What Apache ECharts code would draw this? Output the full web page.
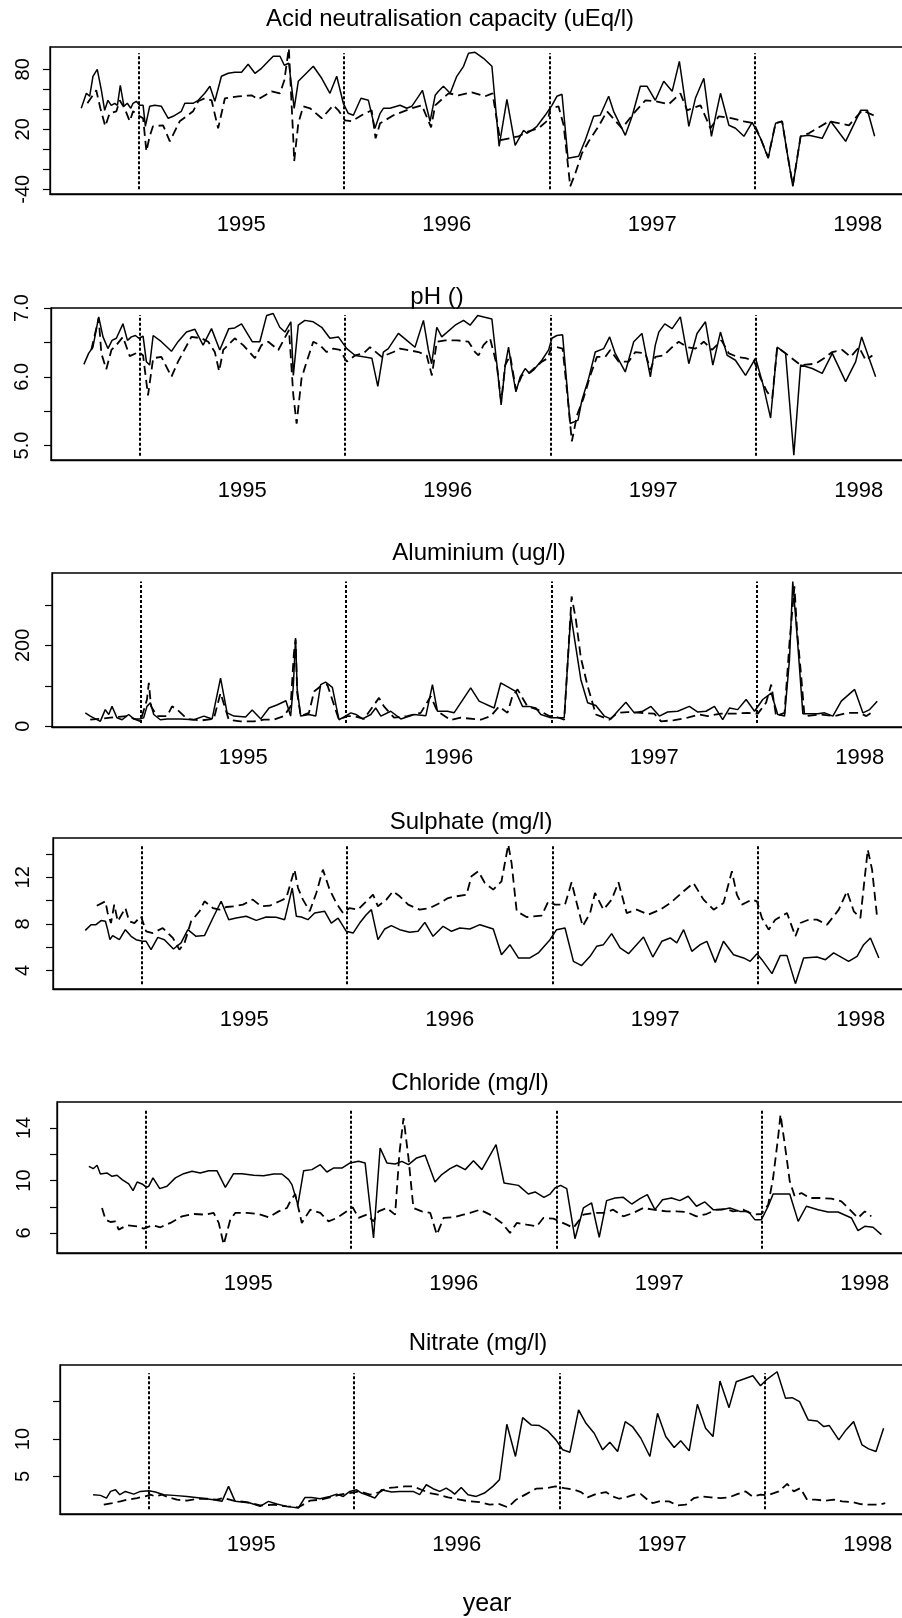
<!DOCTYPE html>
<html><head><meta charset="utf-8">
<script src="https://cdn.jsdelivr.net/npm/echarts@6.0.0/dist/echarts.min.js"></script>
<style>html,body{margin:0;padding:0;background:#fff;}#chart{width:902px;height:1618px;}</style>
</head><body><div id="chart"></div>
<script>
// ---------------- DATA ----------------
const titles = ['Acid neutralisation capacity (uEq/l)', 'pH ()', 'Aluminium (ug/l)', 'Sulphate (mg/l)', 'Chloride (mg/l)', 'Nitrate (mg/l)'];
const xLabel = 'year';
const yearTicks = [1995, 1996, 1997, 1998];
const dividerYears = [1994.5, 1995.5, 1996.5, 1997.5];

const ancTicks = [-40, -20, 0, 20, 40, 60, 80];
const ancLabels = [-40, 20, 80];
const phTicks = [5.0, 5.5, 6.0, 6.5, 7.0];
const phLabels = [5.0, 6.0, 7.0];
const alTicks = [0, 100, 200, 300];
const alLabels = [0, 200];
const so4Ticks = [4, 6, 8, 10, 12, 14];
const so4Labels = [4, 8, 12];
const clTicks = [6, 8, 10, 12, 14];
const clLabels = [6, 10, 14];
const no3Ticks = [5, 10, 15];
const no3Labels = [5, 10];

// value range spanned by the vertical dotted dividers in each panel
const ancSpan = [-40, 96];
const phSpan = [4.85, 6.9];
const alSpan = [8, 358];
const so4Span = [2.8, 14.8];
const clSpan = [4.8, 15.4];
const no3Span = [0.6, 18.8];

const ancSite1 = [[1994.222,41],[1994.247,56],[1994.263,53],[1994.279,73],[1994.300,80],[1994.320,59],[1994.336,39],[1994.352,49],[1994.368,44],[1994.385,46],[1994.398,44],[1994.412,64],[1994.430,43],[1994.446,46],[1994.463,41],[1994.474,46],[1994.490,48],[1994.506,44],[1994.523,44],[1994.534,23],[1994.555,43],[1994.580,44],[1994.612,43],[1994.645,31],[1994.669,33],[1994.709,38],[1994.726,46],[1994.766,46],[1994.791,49],[1994.823,56],[1994.848,63],[1994.872,48],[1994.904,73],[1994.937,76],[1994.969,77],[1995.002,77],[1995.034,85],[1995.067,76],[1995.099,81],[1995.132,88],[1995.156,93],[1995.189,93],[1995.210,84],[1995.232,86],[1995.258,41],[1995.278,68],[1995.351,83],[1995.392,71],[1995.432,56],[1995.465,73],[1995.497,46],[1995.521,36],[1995.546,34],[1995.583,51],[1995.619,49],[1995.651,21],[1995.676,36],[1995.692,41],[1995.724,41],[1995.773,44],[1995.806,41],[1995.830,43],[1995.863,53],[1995.882,59],[1995.919,28],[1995.944,54],[1995.960,58],[1995.984,63],[1996.017,56],[1996.049,73],[1996.082,83],[1996.106,96],[1996.138,97],[1996.179,91],[1996.220,83],[1996.255,3],[1996.293,50],[1996.333,4],[1996.374,19],[1996.390,16],[1996.414,19],[1996.439,23],[1996.479,34],[1996.512,44],[1996.536,53],[1996.561,55],[1996.590,-9],[1996.642,-7],[1996.674,9],[1996.715,33],[1996.747,34],[1996.788,53],[1996.812,38],[1996.869,14],[1996.902,33],[1996.942,63],[1996.975,63],[1997.015,49],[1997.056,68],[1997.097,58],[1997.132,88],[1997.178,23],[1997.210,51],[1997.251,71],[1997.288,13],[1997.311,36],[1997.332,56],[1997.373,24],[1997.405,21],[1997.446,13],[1997.486,27],[1997.527,11],[1997.564,-9],[1997.600,26],[1997.632,28],[1997.657,-4],[1997.684,-37],[1997.722,13],[1997.762,14],[1997.827,11],[1997.868,28],[1997.941,8],[1998.014,39],[1998.047,39],[1998.082,13]];
const ancSite2 = [[1994.252,46],[1994.295,59],[1994.315,41],[1994.339,23],[1994.360,36],[1994.393,38],[1994.409,49],[1994.433,41],[1994.458,28],[1994.474,38],[1994.498,34],[1994.523,31],[1994.539,-2],[1994.555,13],[1994.571,23],[1994.620,24],[1994.653,8],[1994.701,28],[1994.766,38],[1994.791,48],[1994.823,51],[1994.856,49],[1994.888,21],[1994.921,51],[1994.986,53],[1995.051,54],[1995.083,50],[1995.148,58],[1995.189,56],[1995.210,69],[1995.232,101],[1995.254,9],[1995.258,-12],[1995.278,26],[1995.302,43],[1995.335,41],[1995.392,31],[1995.448,44],[1995.473,39],[1995.505,29],[1995.538,28],[1995.586,34],[1995.635,39],[1995.654,11],[1995.676,26],[1995.741,34],[1995.830,41],[1995.879,44],[1995.924,22],[1995.944,44],[1996.009,56],[1996.057,54],[1996.122,57],[1996.187,53],[1996.223,56],[1996.260,9],[1996.350,13],[1996.398,18],[1996.447,21],[1996.492,29],[1996.504,41],[1996.544,43],[1996.569,24],[1996.601,-37],[1996.626,-24],[1996.658,-4],[1996.691,8],[1996.739,23],[1996.780,38],[1996.853,21],[1996.910,36],[1996.967,49],[1997.015,48],[1997.080,45],[1997.137,56],[1997.170,39],[1997.235,44],[1997.283,21],[1997.324,33],[1997.389,31],[1997.446,28],[1997.494,26],[1997.527,11],[1997.564,-8],[1997.600,26],[1997.632,28],[1997.657,-4],[1997.684,-36],[1997.722,13],[1997.762,16],[1997.860,28],[1997.957,24],[1998.022,39],[1998.087,33]];

const phSite1 = [[1994.230,6.18],[1994.253,6.34],[1994.274,6.43],[1994.302,6.87],[1994.323,6.58],[1994.347,6.41],[1994.367,6.53],[1994.388,6.56],[1994.420,6.77],[1994.442,6.53],[1994.461,6.58],[1994.481,6.60],[1994.497,6.56],[1994.518,6.59],[1994.534,6.22],[1994.550,6.17],[1994.567,6.60],[1994.607,6.51],[1994.656,6.37],[1994.688,6.51],[1994.729,6.65],[1994.770,6.69],[1994.810,6.46],[1994.851,6.70],[1994.891,6.39],[1994.935,6.70],[1994.964,6.71],[1994.997,6.77],[1995.021,6.65],[1995.049,6.51],[1995.086,6.51],[1995.119,6.89],[1995.151,6.92],[1995.183,6.72],[1995.208,6.65],[1995.237,6.80],[1995.249,6.02],[1995.273,6.75],[1995.305,6.82],[1995.346,6.80],[1995.387,6.72],[1995.427,6.56],[1995.468,6.58],[1995.509,6.41],[1995.550,6.31],[1995.590,6.29],[1995.631,6.27],[1995.660,5.86],[1995.687,6.36],[1995.711,6.41],[1995.760,6.63],[1995.801,6.53],[1995.841,6.43],[1995.882,6.82],[1995.906,6.39],[1995.922,6.19],[1995.947,6.72],[1995.971,6.58],[1996.036,6.75],[1996.077,6.82],[1996.109,6.75],[1996.146,6.89],[1996.215,6.84],[1996.239,6.19],[1996.260,5.59],[1996.280,6.17],[1996.296,6.43],[1996.312,6.12],[1996.332,5.78],[1996.353,6.00],[1996.377,6.12],[1996.397,6.05],[1996.418,6.10],[1996.458,6.24],[1996.491,6.39],[1996.507,6.56],[1996.531,6.60],[1996.559,6.61],[1996.596,5.32],[1996.634,5.37],[1996.653,5.66],[1996.686,5.98],[1996.718,6.36],[1996.759,6.41],[1996.788,6.58],[1996.815,6.34],[1996.864,6.07],[1996.905,6.51],[1996.945,6.63],[1996.986,6.00],[1997.010,6.46],[1997.027,6.65],[1997.056,6.77],[1997.092,6.70],[1997.132,6.87],[1997.173,6.19],[1997.213,6.63],[1997.254,6.80],[1997.290,6.17],[1997.327,6.65],[1997.360,6.31],[1997.400,6.24],[1997.449,6.02],[1997.498,6.27],[1997.533,5.90],[1997.571,5.40],[1997.603,6.43],[1997.644,6.34],[1997.684,4.86],[1997.717,6.17],[1997.774,6.12],[1997.822,6.05],[1997.871,6.34],[1997.936,5.93],[1997.985,6.22],[1998.014,6.58],[1998.050,6.27],[1998.082,6.00]];
const phSite2 = [[1994.266,6.39],[1994.302,6.85],[1994.315,6.34],[1994.339,6.11],[1994.364,6.39],[1994.388,6.46],[1994.420,6.58],[1994.453,6.30],[1994.497,6.36],[1994.518,6.31],[1994.542,5.73],[1994.567,6.27],[1994.607,6.29],[1994.656,6.00],[1994.688,6.22],[1994.753,6.58],[1994.802,6.56],[1994.835,6.51],[1994.867,6.36],[1994.888,6.08],[1994.908,6.39],[1994.964,6.56],[1995.005,6.46],[1995.062,6.27],[1995.094,6.46],[1995.127,6.51],[1995.176,6.39],[1995.228,6.68],[1995.249,5.73],[1995.265,5.32],[1995.289,5.98],[1995.314,6.22],[1995.346,6.51],[1995.379,6.46],[1995.411,6.36],[1995.444,6.41],[1995.476,6.39],[1995.509,6.22],[1995.549,6.31],[1995.590,6.34],[1995.622,6.43],[1995.679,6.29],[1995.736,6.36],[1995.768,6.41],[1995.858,6.36],[1995.898,6.31],[1995.923,6.02],[1995.947,6.51],[1995.988,6.53],[1996.045,6.53],[1996.101,6.51],[1996.133,6.36],[1996.150,6.31],[1996.174,6.46],[1996.206,6.56],[1996.239,6.17],[1996.260,5.64],[1996.280,6.17],[1996.304,6.31],[1996.332,5.81],[1996.361,6.02],[1996.401,6.07],[1996.458,6.22],[1996.487,6.27],[1996.504,6.43],[1996.531,6.43],[1996.559,6.41],[1996.580,5.81],[1996.604,5.06],[1996.629,5.44],[1996.661,5.69],[1996.694,6.02],[1996.726,6.29],[1996.767,6.29],[1996.791,6.39],[1996.832,6.22],[1996.880,6.22],[1996.913,6.36],[1996.962,6.34],[1996.986,6.10],[1997.010,6.29],[1997.051,6.31],[1997.092,6.43],[1997.124,6.51],[1997.165,6.43],[1997.205,6.41],[1997.246,6.51],[1997.286,6.39],[1997.332,6.53],[1997.368,6.34],[1997.408,6.29],[1997.449,6.27],[1997.489,6.24],[1997.522,5.98],[1997.554,5.78],[1997.579,5.69],[1997.603,6.43],[1997.644,6.34],[1997.717,6.17],[1997.790,6.19],[1997.831,6.27],[1997.871,6.36],[1997.920,6.39],[1997.960,6.29],[1998.001,6.43],[1998.034,6.24],[1998.066,6.31]];

const alSite1 = [[1994.232,33],[1994.256,25],[1994.305,12],[1994.329,41],[1994.346,29],[1994.362,49],[1994.386,21],[1994.411,16],[1994.443,29],[1994.468,18],[1994.500,18],[1994.516,21],[1994.532,49],[1994.549,58],[1994.565,29],[1994.597,16],[1994.630,18],[1994.695,18],[1994.760,16],[1994.809,25],[1994.849,18],[1994.890,119],[1994.922,33],[1994.955,25],[1995.012,23],[1995.044,40],[1995.086,18],[1995.126,45],[1995.167,53],[1995.208,63],[1995.231,25],[1995.244,99],[1995.255,218],[1995.263,91],[1995.280,25],[1995.320,29],[1995.353,25],[1995.377,103],[1995.401,109],[1995.434,96],[1995.466,16],[1995.491,23],[1995.524,33],[1995.549,29],[1995.581,18],[1995.621,29],[1995.645,45],[1995.670,25],[1995.718,37],[1995.767,18],[1995.832,29],[1995.889,26],[1995.921,103],[1995.945,37],[1995.994,37],[1996.026,33],[1996.107,95],[1996.148,62],[1996.221,45],[1996.253,107],[1996.326,86],[1996.359,49],[1996.391,49],[1996.424,45],[1996.448,29],[1996.497,21],[1996.562,21],[1996.594,276],[1996.643,115],[1996.676,58],[1996.716,51],[1996.757,25],[1996.789,18],[1996.822,37],[1996.862,59],[1996.903,33],[1996.944,37],[1996.984,49],[1997.025,25],[1997.065,35],[1997.114,37],[1997.171,49],[1997.212,35],[1997.252,37],[1997.293,49],[1997.333,16],[1997.366,45],[1997.406,41],[1997.447,66],[1997.488,37],[1997.528,66],[1997.569,82],[1997.601,29],[1997.634,25],[1997.658,165],[1997.674,358],[1997.699,198],[1997.723,31],[1997.796,31],[1997.829,33],[1997.869,25],[1997.910,62],[1997.975,91],[1998.015,33],[1998.048,41],[1998.085,62]];
const alSite2 = [[1994.256,16],[1994.354,21],[1994.435,25],[1994.500,12],[1994.532,66],[1994.541,107],[1994.552,49],[1994.581,25],[1994.630,25],[1994.654,49],[1994.679,41],[1994.727,18],[1994.792,14],[1994.857,18],[1994.890,82],[1994.930,16],[1994.987,12],[1995.052,12],[1995.101,16],[1995.149,16],[1995.198,25],[1995.231,49],[1995.247,181],[1995.255,214],[1995.263,82],[1995.280,25],[1995.320,33],[1995.345,86],[1995.377,99],[1995.409,103],[1995.466,16],[1995.507,25],[1995.539,25],[1995.588,18],[1995.661,70],[1995.685,49],[1995.734,21],[1995.799,25],[1995.864,33],[1995.913,74],[1995.945,37],[1996.010,15],[1996.058,21],[1996.156,16],[1996.205,25],[1996.245,49],[1996.286,33],[1996.310,74],[1996.335,91],[1996.383,49],[1996.432,41],[1996.489,25],[1996.513,25],[1996.562,16],[1996.598,321],[1996.619,263],[1996.643,169],[1996.676,99],[1996.716,29],[1996.781,16],[1996.822,33],[1996.870,35],[1996.935,33],[1997.000,31],[1997.033,12],[1997.098,15],[1997.163,21],[1997.220,29],[1997.260,25],[1997.325,31],[1997.390,31],[1997.455,33],[1997.504,31],[1997.544,58],[1997.569,103],[1997.593,25],[1997.634,33],[1997.658,206],[1997.682,346],[1997.695,235],[1997.715,123],[1997.731,25],[1997.812,29],[1997.877,25],[1997.942,33],[1997.999,33],[1998.032,25],[1998.056,33]];

const so4Site1 = [[1994.227,7.44],[1994.255,7.93],[1994.279,7.93],[1994.304,8.28],[1994.325,8.22],[1994.336,7.50],[1994.347,6.64],[1994.360,6.99],[1994.393,6.64],[1994.422,7.50],[1994.450,6.93],[1994.474,6.64],[1994.506,6.50],[1994.523,6.50],[1994.547,5.78],[1994.580,6.84],[1994.612,6.64],[1994.656,5.84],[1994.693,6.36],[1994.726,7.50],[1994.766,6.93],[1994.807,6.99],[1994.848,8.50],[1994.888,9.94],[1994.925,8.36],[1994.961,8.50],[1995.010,8.65],[1995.059,8.30],[1995.107,8.59],[1995.156,8.56],[1995.197,8.36],[1995.234,11.08],[1995.254,8.65],[1995.278,8.59],[1995.310,8.36],[1995.343,8.93],[1995.392,9.08],[1995.424,8.07],[1995.457,8.50],[1995.497,7.36],[1995.530,7.21],[1995.562,8.07],[1995.594,8.79],[1995.619,9.22],[1995.651,6.64],[1995.684,7.56],[1995.716,7.85],[1995.757,7.50],[1995.805,7.27],[1995.846,7.36],[1995.879,8.13],[1995.919,6.93],[1995.968,7.79],[1996.009,7.36],[1996.049,7.64],[1996.098,7.56],[1996.147,7.93],[1996.212,7.56],[1996.252,5.35],[1996.293,6.21],[1996.334,5.07],[1996.390,5.07],[1996.431,5.50],[1996.488,6.64],[1996.520,7.50],[1996.561,7.64],[1996.602,4.78],[1996.642,4.41],[1996.683,5.21],[1996.715,6.07],[1996.748,6.21],[1996.788,7.16],[1996.829,5.93],[1996.870,5.44],[1996.943,6.87],[1996.988,5.15],[1997.032,6.50],[1997.073,6.79],[1997.105,6.36],[1997.138,7.50],[1997.178,5.64],[1997.219,6.21],[1997.251,6.50],[1997.292,4.69],[1997.332,6.50],[1997.381,5.35],[1997.430,5.07],[1997.462,4.78],[1997.495,5.44],[1997.519,4.92],[1997.568,3.72],[1997.608,5.27],[1997.641,5.27],[1997.682,2.86],[1997.722,5.07],[1997.787,5.15],[1997.828,4.92],[1997.868,5.50],[1997.941,4.78],[1997.982,5.21],[1998.014,6.21],[1998.047,6.79],[1998.088,5.07]];
const so4Site2 = [[1994.283,9.56],[1994.325,9.94],[1994.336,8.93],[1994.352,8.07],[1994.368,9.65],[1994.385,8.22],[1994.422,9.36],[1994.441,8.22],[1994.466,8.07],[1994.498,8.65],[1994.523,7.36],[1994.555,7.21],[1994.604,7.64],[1994.653,6.79],[1994.685,5.78],[1994.710,6.36],[1994.742,8.22],[1994.783,9.08],[1994.807,9.94],[1994.848,9.36],[1994.880,9.22],[1994.913,9.45],[1994.953,9.51],[1994.994,9.65],[1995.042,10.08],[1995.083,9.51],[1995.124,9.56],[1995.172,9.94],[1995.205,10.22],[1995.245,12.66],[1995.262,11.08],[1995.286,10.08],[1995.319,9.08],[1995.351,10.65],[1995.383,12.66],[1995.416,10.94],[1995.448,9.79],[1995.481,8.93],[1995.513,9.36],[1995.554,9.22],[1995.627,10.51],[1995.651,9.51],[1995.692,10.08],[1995.724,10.80],[1995.757,10.37],[1995.798,9.65],[1995.854,9.22],[1995.903,9.36],[1995.952,9.79],[1995.992,10.22],[1996.033,10.37],[1996.082,10.51],[1996.106,12.09],[1996.139,12.52],[1996.171,11.51],[1996.212,10.94],[1996.252,11.66],[1996.285,14.81],[1996.301,13.23],[1996.326,9.08],[1996.374,8.59],[1996.447,8.70],[1996.480,9.94],[1996.512,9.65],[1996.561,9.65],[1996.593,11.57],[1996.618,9.79],[1996.647,7.79],[1996.683,8.93],[1996.707,10.65],[1996.748,9.22],[1996.788,10.08],[1996.821,11.57],[1996.861,8.93],[1996.910,9.22],[1996.967,8.79],[1997.024,9.22],[1997.073,9.79],[1997.138,10.80],[1997.186,11.51],[1997.235,10.08],[1997.284,9.22],[1997.332,9.79],[1997.373,12.52],[1997.397,10.51],[1997.422,9.65],[1997.470,10.08],[1997.495,9.94],[1997.519,8.50],[1997.552,7.50],[1997.584,8.36],[1997.641,8.93],[1997.682,6.93],[1997.706,8.07],[1997.747,8.36],[1997.787,8.36],[1997.836,7.93],[1997.893,9.22],[1997.933,10.80],[1997.966,9.08],[1997.998,8.50],[1998.034,14.38],[1998.055,12.66],[1998.079,8.65]];

const clSite1 = [[1994.225,11.08],[1994.246,10.90],[1994.265,11.16],[1994.281,10.50],[1994.314,10.57],[1994.338,10.32],[1994.362,10.40],[1994.387,10.07],[1994.419,9.74],[1994.440,9.23],[1994.460,9.89],[1994.484,9.74],[1994.505,9.48],[1994.516,9.56],[1994.537,10.20],[1994.570,9.38],[1994.605,9.56],[1994.646,10.20],[1994.686,10.52],[1994.727,10.70],[1994.767,10.57],[1994.808,10.75],[1994.848,10.75],[1994.889,9.48],[1994.929,10.52],[1994.970,10.52],[1995.027,10.40],[1995.075,10.37],[1995.124,10.50],[1995.164,10.50],[1995.197,10.07],[1995.213,9.69],[1995.242,8.16],[1995.270,10.75],[1995.310,10.83],[1995.351,11.21],[1995.383,10.65],[1995.415,10.95],[1995.456,10.95],[1995.496,11.34],[1995.537,11.46],[1995.569,11.34],[1995.610,5.62],[1995.642,12.48],[1995.675,11.34],[1995.715,11.26],[1995.748,11.46],[1995.780,11.21],[1995.820,11.72],[1995.861,11.92],[1995.909,9.89],[1995.942,10.45],[1995.982,10.90],[1996.015,11.16],[1996.056,10.83],[1996.096,11.51],[1996.137,10.83],[1996.206,12.73],[1996.245,9.81],[1996.315,9.63],[1996.363,8.97],[1996.396,9.13],[1996.439,8.72],[1996.469,8.97],[1996.493,9.43],[1996.520,9.63],[1996.550,9.38],[1996.590,5.57],[1996.631,7.91],[1996.671,8.29],[1996.708,5.68],[1996.744,8.47],[1996.785,8.67],[1996.825,8.72],[1996.866,8.21],[1996.906,8.62],[1996.942,8.92],[1996.979,7.78],[1997.016,8.54],[1997.060,8.67],[1997.100,8.47],[1997.141,8.80],[1997.181,8.04],[1997.222,8.37],[1997.262,7.78],[1997.303,7.78],[1997.343,7.91],[1997.392,7.65],[1997.433,7.65],[1997.465,7.02],[1997.497,7.02],[1997.530,8.04],[1997.554,8.97],[1997.635,8.97],[1997.676,6.89],[1997.716,8.04],[1997.773,7.78],[1997.821,7.60],[1997.870,7.60],[1997.935,7.15],[1997.967,6.18],[1998.000,6.51],[1998.040,6.44],[1998.081,5.88]];
const clSite2 = [[1994.289,7.91],[1994.306,7.02],[1994.330,6.84],[1994.354,6.89],[1994.370,6.26],[1994.411,6.59],[1994.460,6.51],[1994.492,6.34],[1994.533,6.59],[1994.573,6.44],[1994.622,6.77],[1994.678,7.27],[1994.735,7.45],[1994.792,7.40],[1994.832,7.53],[1994.857,6.77],[1994.881,5.12],[1994.913,7.02],[1994.937,7.53],[1994.994,7.53],[1995.051,7.45],[1995.099,7.20],[1995.148,7.65],[1995.189,7.91],[1995.205,8.42],[1995.229,8.97],[1995.261,6.77],[1995.302,7.78],[1995.351,7.53],[1995.391,6.89],[1995.432,7.15],[1995.509,7.96],[1995.537,7.15],[1995.577,7.40],[1995.610,6.89],[1995.634,7.65],[1995.675,7.91],[1995.715,7.40],[1995.736,12.10],[1995.756,14.76],[1995.780,11.72],[1995.804,7.91],[1995.845,7.65],[1995.886,7.53],[1995.918,5.88],[1995.951,7.15],[1995.999,7.20],[1996.047,7.40],[1996.080,7.53],[1996.128,7.78],[1996.177,7.40],[1996.234,6.77],[1996.274,6.01],[1996.307,6.77],[1996.355,6.64],[1996.404,6.51],[1996.436,7.15],[1996.485,7.10],[1996.550,6.64],[1996.582,6.39],[1996.631,7.40],[1996.679,7.53],[1996.728,7.53],[1996.776,7.78],[1996.825,7.27],[1996.874,7.53],[1996.922,7.91],[1996.971,7.78],[1997.036,7.65],[1997.084,7.65],[1997.133,7.60],[1997.181,7.27],[1997.230,7.45],[1997.278,7.78],[1997.327,7.83],[1997.360,7.65],[1997.408,7.78],[1997.457,7.40],[1997.497,7.45],[1997.530,8.16],[1997.554,10.19],[1997.578,13.24],[1997.590,15.02],[1997.611,12.73],[1997.635,9.94],[1997.659,8.80],[1997.692,9.05],[1997.732,8.67],[1997.781,8.67],[1997.837,8.62],[1997.886,8.42],[1997.927,7.78],[1997.967,7.15],[1998.000,7.65],[1998.032,7.27]];

const no3Site1 = [[1994.231,2.56],[1994.267,2.47],[1994.296,2.11],[1994.316,3.00],[1994.340,3.22],[1994.361,2.56],[1994.388,3.00],[1994.429,2.64],[1994.461,3.00],[1994.502,3.09],[1994.534,2.91],[1994.574,2.56],[1994.623,2.47],[1994.688,2.33],[1994.752,2.11],[1994.817,1.89],[1994.858,1.67],[1994.890,3.67],[1994.922,1.67],[1994.955,1.58],[1994.995,1.44],[1995.044,1.00],[1995.084,1.67],[1995.125,1.31],[1995.173,1.00],[1995.230,0.78],[1995.262,2.20],[1995.294,2.20],[1995.335,2.02],[1995.383,2.33],[1995.416,2.64],[1995.448,2.33],[1995.480,3.00],[1995.513,3.22],[1995.537,2.78],[1995.561,2.56],[1995.602,2.11],[1995.634,3.22],[1995.683,2.91],[1995.723,3.00],[1995.788,3.00],[1995.820,2.56],[1995.852,3.89],[1995.885,3.36],[1995.917,3.00],[1995.949,3.44],[1995.974,3.00],[1995.990,2.64],[1996.022,3.53],[1996.055,2.56],[1996.095,2.33],[1996.135,2.78],[1996.176,3.67],[1996.208,4.56],[1996.244,11.98],[1996.286,7.67],[1996.321,12.87],[1996.362,11.89],[1996.402,11.80],[1996.443,11.09],[1996.483,9.89],[1996.516,8.56],[1996.551,8.24],[1996.593,13.89],[1996.629,12.11],[1996.669,10.78],[1996.710,8.56],[1996.745,9.58],[1996.783,8.33],[1996.820,12.33],[1996.855,11.67],[1996.896,10.11],[1996.940,7.67],[1996.977,13.44],[1997.017,10.33],[1997.058,8.87],[1997.090,9.76],[1997.131,8.42],[1997.171,14.64],[1997.211,11.44],[1997.247,10.33],[1997.281,17.76],[1997.325,14.20],[1997.360,17.67],[1997.397,18.02],[1997.441,18.47],[1997.478,17.13],[1997.511,18.02],[1997.559,19.00],[1997.600,15.44],[1997.632,15.53],[1997.668,15.00],[1997.710,12.56],[1997.754,12.42],[1997.786,11.67],[1997.813,11.80],[1997.859,9.89],[1997.894,11.22],[1997.931,12.33],[1997.972,9.22],[1998.004,8.69],[1998.040,8.33],[1998.077,11.44]];
const no3Site2 = [[1994.283,1.22],[1994.324,1.44],[1994.364,1.67],[1994.397,1.89],[1994.445,2.11],[1994.485,2.33],[1994.510,2.56],[1994.534,2.33],[1994.566,2.56],[1994.599,2.20],[1994.639,1.89],[1994.688,1.76],[1994.736,2.02],[1994.785,2.02],[1994.833,1.89],[1994.866,2.11],[1994.914,1.76],[1994.979,1.58],[1995.044,1.13],[1995.108,1.22],[1995.173,1.00],[1995.230,0.87],[1995.286,1.76],[1995.335,1.89],[1995.383,2.20],[1995.432,2.56],[1995.480,2.78],[1995.529,3.00],[1995.578,2.56],[1995.626,2.91],[1995.658,3.44],[1995.699,3.53],[1995.747,3.67],[1995.788,3.67],[1995.828,3.22],[1995.869,2.78],[1995.909,2.56],[1995.958,2.20],[1996.014,1.89],[1996.063,1.67],[1996.111,1.58],[1996.160,1.22],[1996.208,1.31],[1996.249,0.87],[1996.289,1.89],[1996.338,2.64],[1996.386,3.36],[1996.435,3.44],[1996.480,3.67],[1996.524,3.44],[1996.572,3.22],[1996.605,2.91],[1996.637,2.20],[1996.677,2.64],[1996.726,2.91],[1996.758,2.33],[1996.791,2.02],[1996.823,2.20],[1996.864,2.56],[1996.896,2.64],[1996.928,1.89],[1996.953,1.44],[1996.985,1.67],[1997.033,1.67],[1997.074,1.13],[1997.114,1.22],[1997.155,2.11],[1997.195,2.33],[1997.236,2.20],[1997.284,2.11],[1997.325,2.20],[1997.365,2.64],[1997.406,3.00],[1997.438,2.33],[1997.478,2.56],[1997.511,2.47],[1997.567,3.00],[1997.608,4.00],[1997.640,3.00],[1997.672,3.44],[1997.705,1.89],[1997.745,1.89],[1997.794,1.76],[1997.834,1.89],[1997.875,1.67],[1997.923,1.58],[1997.964,1.31],[1998.004,1.22],[1998.053,1.22],[1998.085,1.44]];

// ---------------- LAYOUT ----------------
const FONT = '"Liberation Sans", Arial, Helvetica, sans-serif';
const X_MIN = 1994.07, X_MAX = 1998.22, PLOT_W = 853;
const panels = [
  { s1: ancSite1, s2: ancSite2, ticks: ancTicks, labels: ancLabels, span: ancSpan, yMin: -44.7, yMax: 102.3, left: 50, top: 47, height: 147, margin: 17, tx: 450, ty: 7, dec: 0 },
  { s1: phSite1, s2: phSite2, ticks: phTicks, labels: phLabels, span: phSpan, yMin: 4.79, yMax: 7.0, left: 51, top: 308, height: 152, margin: 19, tx: 437, ty: 285, dec: 1 },
  { s1: alSite1, s2: alSite2, ticks: alTicks, labels: alLabels, span: alSpan, yMin: -2, yMax: 379, left: 52, top: 573, height: 154, margin: 19, tx: 479, ty: 541, dec: 0 },
  { s1: so4Site1, s2: so4Site2, ticks: so4Ticks, labels: so4Labels, span: so4Span, yMin: 2.40, yMax: 15.38, left: 53, top: 838, height: 151, margin: 20, tx: 471, ty: 810, dec: 0 },
  { s1: clSite1, s2: clSite2, ticks: clTicks, labels: clLabels, span: clSpan, yMin: 4.48, yMax: 15.98, left: 57, top: 1102, height: 151, margin: 23, tx: 470, ty: 1071, dec: 0 },
  { s1: no3Site1, s2: no3Site2, ticks: no3Ticks, labels: no3Labels, span: no3Span, yMin: -0.02, yMax: 19.9, left: 60, top: 1365, height: 149, margin: 27, tx: 478, ty: 1331, dec: 0 }
];

const option = {
  animation: false,
  backgroundColor: '#ffffff',
  title: [], grid: [], xAxis: [], yAxis: [], series: []
};

panels.forEach((p, i) => {
  option.title.push({
    text: titles[i], left: p.tx, top: p.ty, textAlign: 'center', padding: 0,
    textStyle: { fontSize: 24, fontWeight: 'normal', color: '#000', fontFamily: FONT }
  });
  option.grid.push({
    left: p.left, top: p.top, width: PLOT_W, height: p.height,
    show: true, borderColor: '#000', borderWidth: 1.3, backgroundColor: 'transparent',
    containLabel: false, outerBoundsMode: 'none'
  });
  option.xAxis.push({
    type: 'value', gridIndex: i, min: X_MIN, max: X_MAX,
    axisLine: { show: true, onZero: false, lineStyle: { color: '#000', width: 1.3 } },
    axisTick: { show: false },
    splitLine: { show: false },
    axisLabel: { customValues: yearTicks, margin: 20, fontSize: 22, color: '#000', fontFamily: FONT, formatter: v => String(v) }
  });
  option.yAxis.push({
    type: 'value', gridIndex: i, min: p.yMin, max: p.yMax,
    axisLine: { show: true, onZero: false, lineStyle: { color: '#000', width: 1.3 } },
    axisTick: { show: true, customValues: p.ticks, length: 7, lineStyle: { color: '#000', width: 1.2 } },
    splitLine: { show: false },
    axisLabel: { customValues: p.labels, rotate: 90, margin: p.margin, fontSize: 20, color: '#000', fontFamily: FONT,
      formatter: v => Number(v).toFixed(p.dec) }
  });
  option.series.push({
    type: 'line', xAxisIndex: i, yAxisIndex: i, data: p.s1, showSymbol: false, symbol: 'none', silent: true,
    lineStyle: { color: '#000', width: 1.5 },
    markLine: {
      silent: true, symbol: ['none', 'none'], label: { show: false }, animation: false,
      lineStyle: { color: '#000', width: 2, type: [3, 2] },
      data: dividerYears.map(x => [{ coord: [x, p.span[0]] }, { coord: [x, p.span[1]] }])
    }
  });
  option.series.push({
    type: 'line', xAxisIndex: i, yAxisIndex: i, data: p.s2, showSymbol: false, symbol: 'none', silent: true,
    lineStyle: { color: '#000', width: 1.8, type: [9, 5] }
  });
});

option.title.push({
  text: xLabel, left: 487, top: 1592, textAlign: 'center', padding: 0,
  textStyle: { fontSize: 25, fontWeight: 'normal', color: '#000', fontFamily: FONT }
});

const chart = echarts.init(document.getElementById('chart'), null, { renderer: 'canvas', width: 902, height: 1618 });
chart.setOption(option);
</script>
</body></html>
